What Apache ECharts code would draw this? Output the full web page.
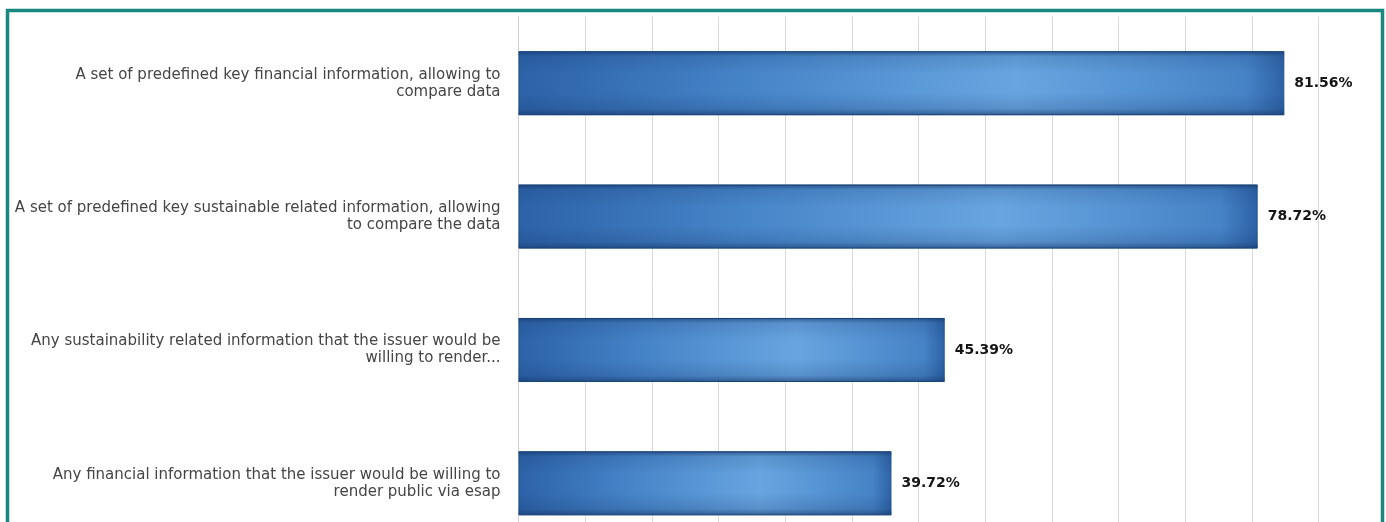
<!DOCTYPE html>
<html>
<head>
<meta charset="utf-8">
<script src="https://cdn.jsdelivr.net/npm/echarts@6/dist/echarts.min.js"></script>
<style>
  html, body { margin: 0; padding: 0; background: #ffffff; overflow: hidden; }
  #chart { width: 1386px; height: 550px; }
</style>
</head>
<body>
<div id="chart"></div>
<script>
const categories = [
  "A set of predefined key financial information, allowing to\ncompare data",
  "A set of predefined key sustainable related information, allowing\nto compare the data",
  "Any sustainability related information that the issuer would be\nwilling to render...",
  "Any financial information that the issuer would be willing to\nrender public via esap"
];
const values = [81.56, 78.72, 45.39, 39.72];
const axisMin = 0;
const axisMax = 85.2;
const axisStep = 7.1;

const chart = echarts.init(document.getElementById('chart'), null, { renderer: 'canvas' });

chart.setOption({
  animation: false,
  backgroundColor: '#ffffff',
  grid: { left: 518.5, top: 16.5, right: 67.5, bottom: 0, containLabel: false },
  xAxis: {
    type: 'value',
    min: axisMin,
    max: axisMax,
    interval: axisStep,
    axisLabel: { show: false },
    axisTick: { show: false },
    axisLine: { show: false },
    splitLine: { show: true, lineStyle: { color: '#d9d9d9', width: 1 } }
  },
  yAxis: {
    type: 'category',
    inverse: true,
    data: categories,
    axisTick: { show: false },
    axisLine: { show: true, lineStyle: { color: '#cfcfcf', width: 1 } },
    axisLabel: {
      margin: 18,
      fontFamily: 'DejaVu Sans',
      fontSize: 15,
      lineHeight: 17,
      color: '#454545',
      align: 'right'
    }
  },
  series: [
    {
      type: 'bar',
      data: values,
      barWidth: 64,
      itemStyle: {
        color: {
          type: 'linear', x: 0, y: 0, x2: 1, y2: 0,
          colorStops: [
            { offset: 0, color: '#2c62a8' },
            { offset: 0.3, color: '#4684c8' },
            { offset: 0.65, color: '#68a5e0' },
            { offset: 0.95, color: '#4683c6' },
            { offset: 1, color: '#2d62a6' }
          ]
        },
        borderColor: '#1f548f',
        borderWidth: 1
      }
    },
    {
      type: 'bar',
      data: values,
      barWidth: 64,
      barGap: '-100%',
      silent: true,
      itemStyle: {
        color: {
          type: 'linear', x: 0, y: 0, x2: 0, y2: 1,
          colorStops: [
            { offset: 0, color: 'rgba(18,50,100,0.65)' },
            { offset: 0.08, color: 'rgba(18,50,100,0.15)' },
            { offset: 0.35, color: 'rgba(18,50,100,0)' },
            { offset: 0.65, color: 'rgba(18,50,100,0)' },
            { offset: 0.9, color: 'rgba(18,50,100,0.18)' },
            { offset: 1, color: 'rgba(18,50,100,0.6)' }
          ]
        }
      },
      label: {
        show: true,
        position: 'right',
        distance: 10,
        formatter: function (p) { return p.value.toFixed(2) + '%'; },
        fontFamily: 'DejaVu Sans',
        fontWeight: 'bold',
        fontSize: 14,
        color: '#151515'
      }
    }
  ],
  graphic: [
    {
      type: 'rect',
      silent: true,
      z: 100,
      shape: { x: 7.5, y: 10.5, width: 1375, height: 560 },
      style: { fill: null, stroke: '#17877f', lineWidth: 3.5 }
    }
  ]
});
</script>
</body>
</html>
